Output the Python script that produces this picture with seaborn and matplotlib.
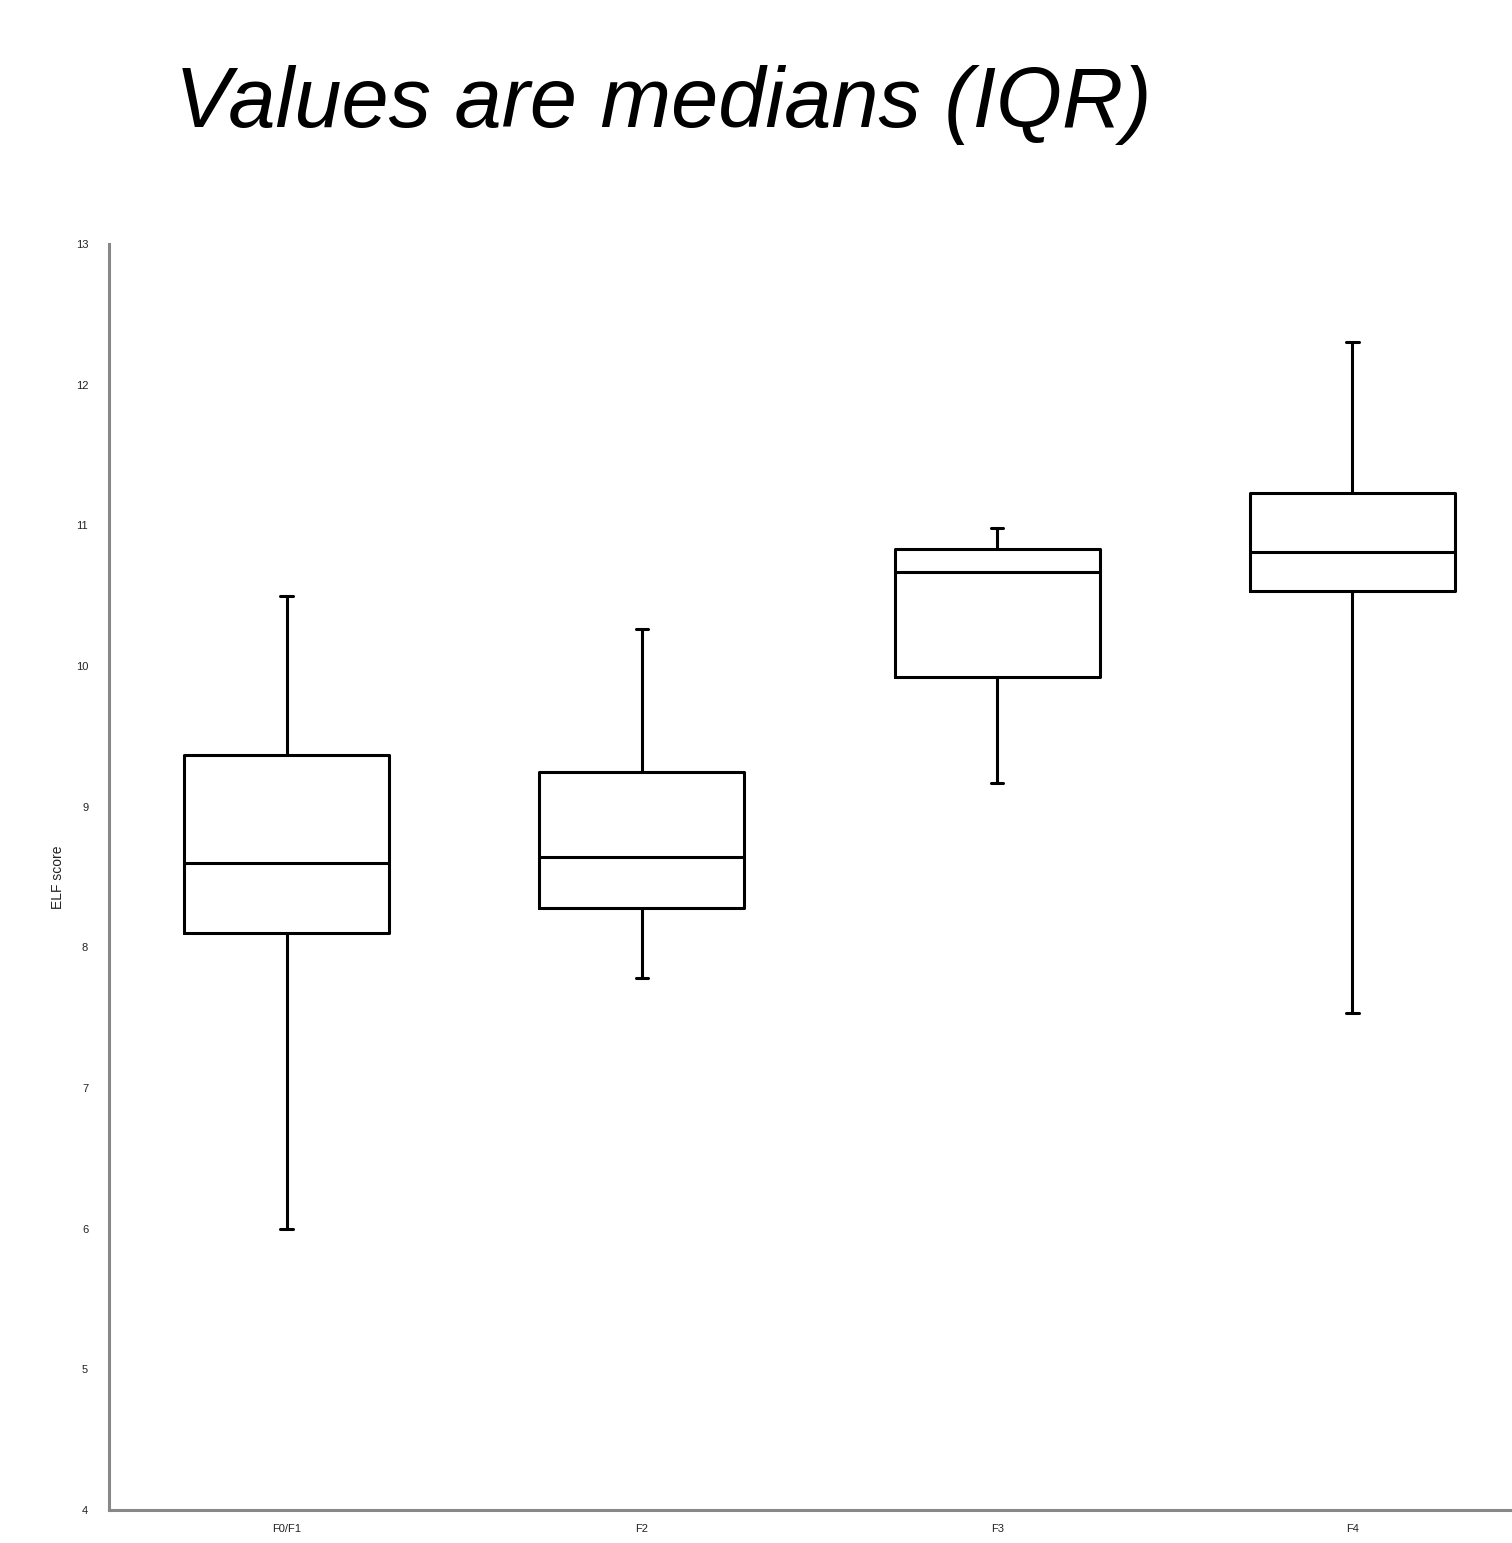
import matplotlib
matplotlib.use('Agg')

import matplotlib.pyplot as plt
import pandas as pd
import seaborn as sns

# Five-number summaries: min, Q1, median, Q3, max
stages = ['F0/F1', 'F2', 'F3', 'F4']
mins = [6.00, 7.78, 9.17, 7.53]
q1s = [8.10, 8.28, 9.92, 10.53]
medians = [8.60, 8.64, 10.67, 10.81]
q3s = [9.37, 9.25, 10.83, 11.23]
maxs = [10.50, 10.26, 10.98, 12.30]
y_ticks = [4, 5, 6, 7, 8, 9, 10, 11, 12, 13]

if __name__ == "__main__":
    # With five values per group, the quartiles fall exactly on the 2nd and 4th value
    rows = []
    for i, stage in enumerate(stages):
        for v in (mins[i], q1s[i], medians[i], q3s[i], maxs[i]):
            rows.append({'stage': stage, 'elf': v})
    df = pd.DataFrame(rows)

    sns.set_style('white')
    plt.rcParams['font.family'] = ['Liberation Sans', 'DejaVu Sans']

    W, H = 1512, 1543
    fig = plt.figure(figsize=(W / 100, H / 100), dpi=100)
    left, right, top, bottom = 109, 1530, 244, 1510
    ax = fig.add_axes([left / W, (H - bottom) / H, (right - left) / W, (bottom - top) / H])

    lw = 2.2
    sns.boxplot(data=df, x='stage', y='elf', order=stages, whis=(0, 100),
                fill=False, color='black', width=0.577, linewidth=lw,
                capwidths=0.035,
                boxprops={'color': 'black', 'linewidth': lw},
                medianprops={'color': 'black', 'linewidth': lw},
                whiskerprops={'color': 'black', 'linewidth': lw},
                capprops={'color': 'black', 'linewidth': lw},
                ax=ax)

    ax.set_xlim(-0.5, 3.5)
    ax.set_ylim(4, 13)
    ax.set_yticks(y_ticks)
    ax.set_yticklabels([str(t) for t in y_ticks])
    ax.tick_params(axis='both', length=0, labelsize=8, colors='#222222')
    ax.tick_params(axis='y', pad=15)
    ax.tick_params(axis='x', pad=10)
    ax.set_xlabel('')
    ax.set_ylabel('ELF score', fontsize=10, labelpad=8, color='#222222')

    for side in ('top', 'right'):
        ax.spines[side].set_visible(False)
    for side in ('left', 'bottom'):
        ax.spines[side].set_color('#888888')
        ax.spines[side].set_linewidth(2.2)

    fig.text(175 / W, (H - 127) / H, 'Values are medians (IQR)', fontsize=61,
             fontstyle='italic', ha='left', va='baseline', color='black')

    plt.savefig('out.png', dpi=100)
